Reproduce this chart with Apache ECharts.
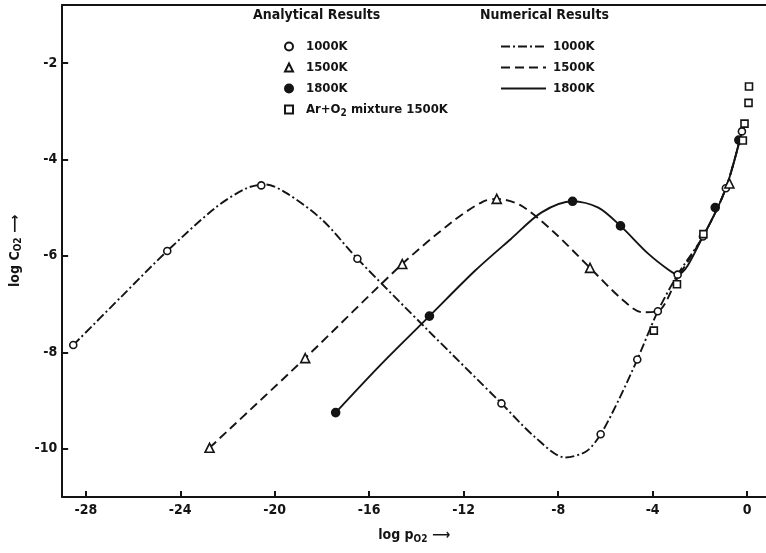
<!DOCTYPE html>
<html><head><meta charset="utf-8">
<script src="https://cdn.jsdelivr.net/npm/echarts@6/dist/echarts.min.js"></script>
<style>html,body{margin:0;padding:0;background:#fff}#c{width:766px;height:553px}</style>
</head><body><div id="c"></div>
<script>
const xTicks = [-28, -24, -20, -16, -12, -8, -4, 0];
const yTicks = [-10, -8, -6, -4, -2];

// Analytical results (markers)
const a1000 = [[-28.53,-7.85],[-24.55,-5.9],[-20.57,-4.54],[-16.5,-6.06],[-10.4,-9.06],[-6.2,-9.7],[-4.65,-8.15],[-3.78,-7.15],[-2.94,-6.39],[-1.87,-5.6],[-0.9,-4.6],[-0.22,-3.42]];
const a1500 = [[-22.76,-9.98],[-18.71,-8.12],[-14.6,-6.17],[-10.6,-4.82],[-6.65,-6.25],[-0.75,-4.5]];
const a1800 = [[-17.42,-9.25],[-13.45,-7.25],[-7.39,-4.87],[-5.36,-5.38],[-1.35,-5.0],[-0.35,-3.6]];
const aMix  = [[-3.95,-7.55],[-2.97,-6.59],[-1.85,-5.55],[-0.18,-3.61],[-0.11,-3.26],[0.06,-2.83],[0.08,-2.49]];

// Numerical results (curves)
const n1000 = [[-28.53,-7.85],[-26.5,-6.85],[-24.55,-5.9],[-22.5,-5.0],[-21.2,-4.6],[-20.4,-4.52],[-19.5,-4.7],[-18,-5.25],[-16.5,-6.06],[-13.5,-7.55],[-10.4,-9.06],[-9,-9.75],[-7.7,-10.18],[-6.8,-10.05],[-6.2,-9.7],[-5.4,-8.95],[-4.65,-8.15],[-3.78,-7.15],[-2.94,-6.39],[-1.87,-5.6],[-0.9,-4.6],[-0.22,-3.42]];
const n1500 = [[-22.76,-9.98],[-18.71,-8.12],[-14.6,-6.17],[-12.5,-5.3],[-11.2,-4.88],[-10.6,-4.82],[-9.6,-4.95],[-8.2,-5.5],[-6.65,-6.25],[-5.3,-6.9],[-4.44,-7.17],[-3.78,-7.15],[-2.94,-6.45],[-1.87,-5.6],[-0.9,-4.6],[-0.22,-3.42]];
const n1800 = [[-17.42,-9.25],[-15.5,-8.25],[-13.45,-7.25],[-11.5,-6.3],[-10,-5.65],[-8.7,-5.1],[-7.39,-4.87],[-6.3,-5.0],[-5.36,-5.38],[-4.2,-5.95],[-3.3,-6.3],[-2.94,-6.39],[-1.87,-5.6],[-0.9,-4.6],[-0.22,-3.42]];

const names = ['1000K', '1500K', '1800K', 'Ar+O2 mixture 1500K'];
const numNames = ['1000 K', '1500 K', '1800 K'];

const INK = '#141414';
const FONT = '"DejaVu Sans Condensed", "DejaVu Sans", sans-serif';
const chart = echarts.init(document.getElementById('c'), null, {renderer: 'canvas'});

const marker = (name, data, symbol, size, filled) => ({
  name, type: 'scatter', data, symbol, symbolSize: size, z: 5,
  itemStyle: {color: filled ? INK : '#fff', borderColor: INK, borderWidth: 1.6, opacity: 1}
});
const curve = (name, data, type) => ({
  name, type: 'line', data, smooth: 0.3, symbol: 'none', z: 3,
  itemStyle: {color: INK},
  lineStyle: {color: INK, width: 1.9, type}
});
const sub = {fontSize: 10, fontWeight: 'bold', fontFamily: FONT, color: INK, padding: [7, 0, 0, 0]};

chart.setOption({
  backgroundColor: '#fff',
  animation: false,
  grid: {left: 59, right: 0, top: 5, bottom: 56},
  graphic: [
    {type: 'text', left: 253, top: 8, style: {text: 'Analytical Results', font: 'bold 14px ' + FONT, fill: INK}},
    {type: 'text', left: 480, top: 8, style: {text: 'Numerical Results', font: 'bold 14px ' + FONT, fill: INK}}
  ],
  legend: [
    {
      data: names, orient: 'vertical', left: 279, top: 34, itemWidth: 8, itemHeight: 8, itemGap: 6,
      textStyle: {fontFamily: FONT, fontWeight: 'bold', fontSize: 13, color: INK, lineHeight: 15, padding: [0, 0, 0, 8],
        rich: {sub}},
      formatter: n => n === names[3] ? 'Ar+O{sub|2} mixture 1500K' : n
    },
    {
      data: numNames, orient: 'vertical', left: 495, top: 34, itemWidth: 45, itemHeight: 10, itemGap: 6,
      itemStyle: {opacity: 0},
      textStyle: {fontFamily: FONT, fontWeight: 'bold', fontSize: 13, color: INK, lineHeight: 15, padding: [0, 0, 0, 2]},
      formatter: n => n.replace(' ', '')
    }
  ],
  xAxis: [{
    type: 'value', min: -29, max: 0.8, position: 'bottom',
    splitLine: {show: false},
    axisLine: {show: true, onZero: false, lineStyle: {color: INK, width: 2}},
    axisTick: {show: true, inside: true, length: 6, lineStyle: {color: INK, width: 2}, customValues: xTicks},
    axisLabel: {customValues: xTicks, margin: 6, fontFamily: FONT, fontWeight: 'bold', fontSize: 14, color: INK},
    name: 'log p{sub|O2} ⟶', nameLocation: 'middle', nameGap: 30,
    nameTextStyle: {fontFamily: FONT, fontWeight: 'bold', fontSize: 14, color: INK, rich: {sub}}
  }, {
    type: 'value', min: -29, max: 0.8, position: 'top',
    axisLine: {show: true, onZero: false, lineStyle: {color: INK, width: 2}},
    axisTick: {show: false}, axisLabel: {show: false}, splitLine: {show: false}
  }],
  yAxis: {
    type: 'value', min: -11, max: -0.8,
    splitLine: {show: false},
    axisLine: {show: true, onZero: false, lineStyle: {color: INK, width: 2}},
    axisTick: {show: true, inside: true, length: 6, lineStyle: {color: INK, width: 2}, customValues: yTicks},
    axisLabel: {customValues: yTicks, margin: 5, fontFamily: FONT, fontWeight: 'bold', fontSize: 14, color: INK},
    name: 'log C{sub|O2} ⟶', nameLocation: 'middle', nameGap: 36, nameRotate: 90,
    nameTextStyle: {fontFamily: FONT, fontWeight: 'bold', fontSize: 14, color: INK, rich: {sub}}
  },
  series: [
    curve(numNames[0], n1000, [9, 3, 2, 3]),
    curve(numNames[1], n1500, [9, 5]),
    curve(numNames[2], n1800, 'solid'),
    marker(names[0], a1000, 'circle', 7, false),
    marker(names[1], a1500, 'triangle', 9, false),
    marker(names[2], a1800, 'circle', 8, true),
    marker(names[3], aMix, 'rect', 7, false)
  ]
});
</script>
</body></html>
